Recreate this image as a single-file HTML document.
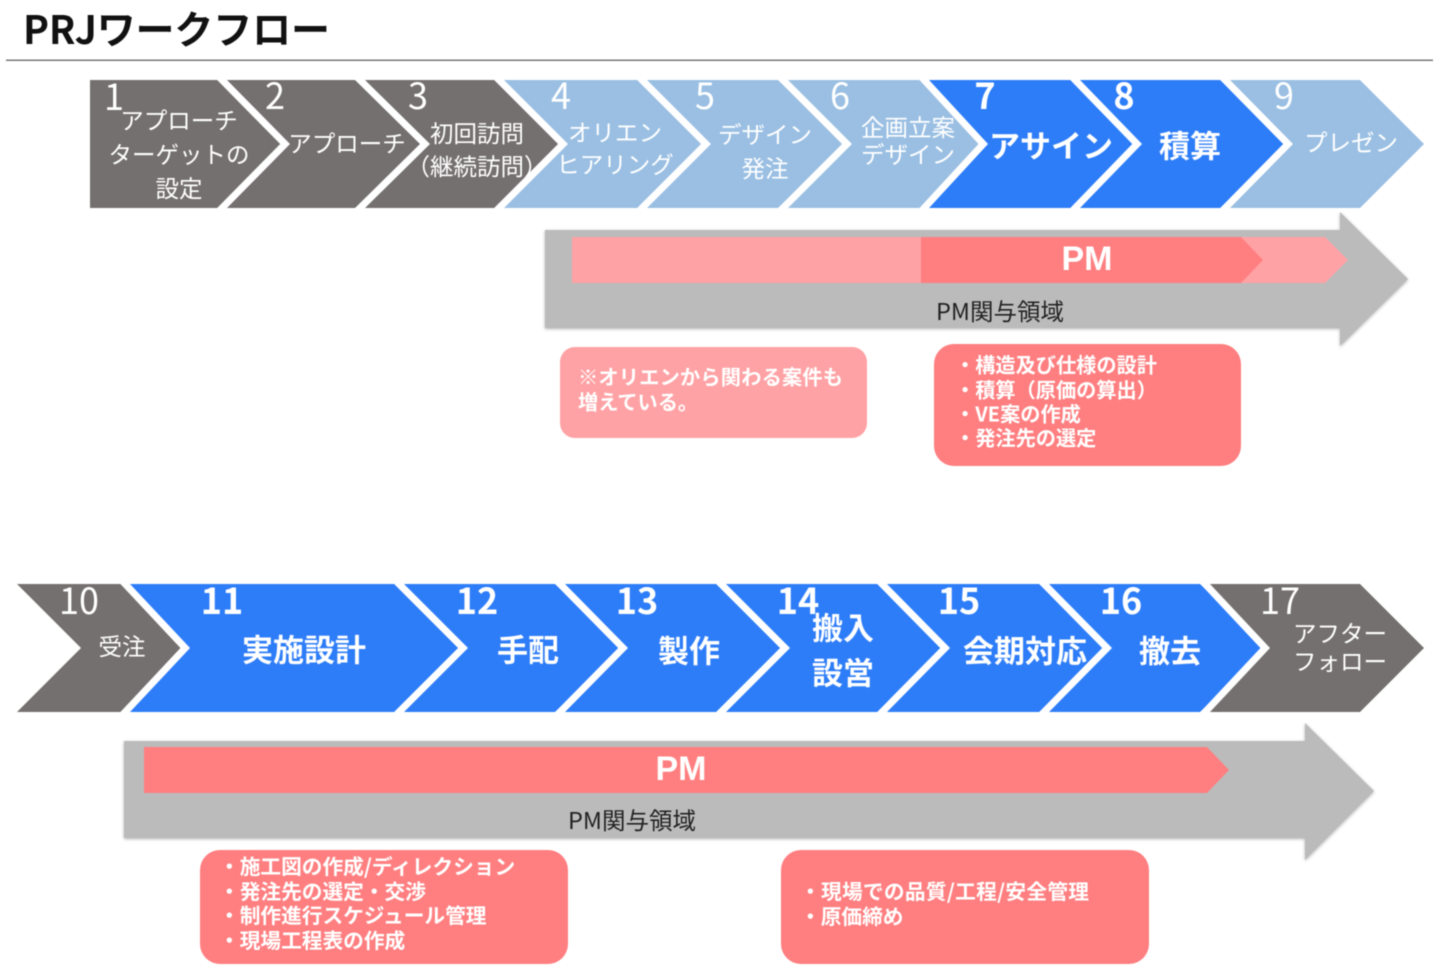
<!DOCTYPE html>
<html lang="ja">
<head>
<meta charset="utf-8">
<title>PRJワークフロー</title>
<style>
html,body{margin:0;padding:0;background:#fff;width:1440px;height:970px;overflow:hidden}
svg{display:block;filter:blur(0.65px)}
text{font-family:"Liberation Sans","Noto Sans CJK JP",sans-serif;dominant-baseline:central;fill:#fff}
.n{font-size:36px;text-anchor:middle;font-family:"Noto Sans CJK JP",sans-serif;font-weight:400}
.s{font-size:23.5px;text-anchor:middle;font-family:"Noto Sans CJK JP",sans-serif;font-weight:400}
.b{font-size:31px;text-anchor:middle;font-family:"Noto Sans CJK JP",sans-serif;font-weight:700}
.t{font-size:20.2px;font-family:"Noto Sans CJK JP",sans-serif;font-weight:700}
.u{font-size:20.7px}
.pm{font-size:34px;font-weight:700;text-anchor:middle}
.a{font-size:23.5px;text-anchor:middle;fill:#222;font-family:"Noto Sans CJK JP",sans-serif}
.p polygon{stroke:#fff;stroke-width:14;paint-order:stroke;stroke-linejoin:miter;stroke-miterlimit:4}
.g{filter:drop-shadow(0 1px 1.5px rgba(0,0,0,.3))}
</style>
</head>
<body>
<svg width="1440" height="970" viewBox="0 0 1440 970" xmlns="http://www.w3.org/2000/svg">
<rect width="1440" height="970" fill="#fff"/>
<text x="23" y="28" style="font-size:39px;font-weight:700;fill:#111;font-family:'Noto Sans CJK JP',sans-serif" textLength="307">PRJワークフロー</text>
<rect x="6" y="59.5" width="1427" height="1.5" fill="#777"/>

<g class="p">
<polygon fill="#757070" points="90,80 220,80 284,144 220,208 90,208"/>
<polygon fill="#757070" points="227,80 356,80 424,144 356,208 227,208 290,144"/>
<polygon fill="#757070" points="365,80 498,80 563,144 498,208 365,208 430,144"/>
<polygon fill="#9abfe3" points="504,80 638,80 704,144 638,208 504,208 568,144"/>
<polygon fill="#9abfe3" points="647,80 778,80 846,144 778,208 647,208 711,144"/>
<polygon fill="#9abfe3" points="788,80 921,80 985,144 921,208 788,208 852,144"/>
<polygon fill="#2e7df8" points="929,80 1072,80 1136,144 1072,208 929,208 988,144"/>
<polygon fill="#2e7df8" points="1080,80 1222,80 1286,144 1222,208 1080,208 1142,144"/>
<polygon fill="#9abfe3" points="1230,80 1360,80 1424,144 1360,208 1230,208 1293,144"/>

<polygon fill="#757070" points="17,584 122,584 188,648 122,712 17,712 81,648"/>
<polygon fill="#2e7df8" points="130,584 395,584 466,648 395,712 130,712 190,648"/>
<polygon fill="#2e7df8" points="404,584 555,584 625,648 555,712 404,712 468,648"/>
<polygon fill="#2e7df8" points="565,584 717,584 787,648 717,712 565,712 628,648"/>
<polygon fill="#2e7df8" points="726,584 878,584 948,648 878,712 726,712 790,648"/>
<polygon fill="#2e7df8" points="887,584 1040,584 1108,648 1040,712 887,712 950,648"/>
<polygon fill="#2e7df8" points="1049,584 1200,584 1267,648 1200,712 1049,712 1112,648"/>
<polygon fill="#757070" points="1210,584 1360,584 1424,648 1360,712 1210,712 1270,648"/>
</g>

<polygon class="g" fill="#bbb" points="545,230 1340,230 1340,212 1408,279 1340,346 1340,328 545,328"/>
<polygon fill="#ffa2a5" points="572,237 1325,237 1348,260 1325,283 572,283"/>
<polygon fill="#ff7f81" points="921,237 1241,237 1263,260 1241,283 921,283"/>

<polygon class="g" fill="#bbb" points="124,741 1305,741 1305,723 1374,791 1305,860 1305,838 124,838"/>
<polygon fill="#ff7f81" points="144,747 1207,747 1229,770 1207,793 144,793"/>

<rect x="560" y="347" width="307" height="91" rx="15" fill="#ffa2a5"/>
<rect x="934" y="344" width="307" height="122" rx="20" fill="#ff7f81"/>
<rect x="200" y="850" width="368" height="114" rx="20" fill="#ff7f81"/>
<rect x="781" y="850" width="368" height="114" rx="20" fill="#ff7f81"/>

<text class="n" x="114" y="95">1</text>
<text class="n" x="275" y="94">2</text>
<text class="n" x="418" y="94">3</text>
<text class="n" x="561" y="94">4</text>
<text class="n" x="705" y="94">5</text>
<text class="n" x="840" y="94">6</text>
<text class="n" x="985" y="94" style="font-weight:700">7</text>
<text class="n" x="1124" y="94" style="font-weight:700">8</text>
<text class="n" x="1284" y="94">9</text>

<text class="s" x="179" y="119">アプローチ</text>
<text class="s" x="179" y="153">ターゲットの</text>
<text class="s" x="179" y="187">設定</text>
<text class="s" x="347" y="142">アプローチ</text>
<text class="s" x="477" y="132">初回訪問</text>
<text class="s" x="477" y="165">（継続訪問）</text>
<text class="s" x="615" y="131">オリエン</text>
<text class="s" x="615" y="163">ヒアリング</text>
<text class="s" x="765" y="133">デザイン</text>
<text class="s" x="765" y="167">発注</text>
<text class="s" x="908" y="126">企画立案</text>
<text class="s" x="908" y="153">デザイン</text>
<text class="b" x="1051" y="144">アサイン</text>
<text class="b" x="1190" y="144">積算</text>
<text class="s" x="1351" y="141">プレゼン</text>

<text class="n" x="79" y="599">10</text>
<text class="n" x="222" y="599" style="font-weight:700">11</text>
<text class="n" x="477" y="599" style="font-weight:700">12</text>
<text class="n" x="637" y="599" style="font-weight:700">13</text>
<text class="n" x="798" y="599" style="font-weight:700">14</text>
<text class="n" x="959" y="599" style="font-weight:700">15</text>
<text class="n" x="1121" y="599" style="font-weight:700">16</text>
<text class="n" x="1280" y="599">17</text>

<text class="s" x="122" y="645">受注</text>
<text class="b" x="304" y="648">実施設計</text>
<text class="b" x="528" y="648">手配</text>
<text class="b" x="689" y="649">製作</text>
<text class="b" x="843" y="626">搬入</text>
<text class="b" x="843" y="671">設営</text>
<text class="b" x="1025" y="649">会期対応</text>
<text class="b" x="1170" y="649">撤去</text>
<text class="s" x="1340" y="632">アフター</text>
<text class="s" x="1340" y="660">フォロー</text>

<text class="pm" x="1087" y="259">PM</text>
<text class="a" x="1000" y="310">PM関与領域</text>
<text class="pm" x="681" y="769">PM</text>
<text class="a" x="632" y="819">PM関与領域</text>

<text class="t" x="578" y="376" textLength="265">※オリエンから関わる案件も</text>
<text class="t" x="578" y="401">増えている。</text>

<text class="t" x="955" y="364">・構造及び仕様の設計</text>
<text class="t" x="955" y="389">・積算（原価の算出）</text>
<text class="t" x="955" y="413">・VE案の作成</text>
<text class="t" x="955" y="437">・発注先の選定</text>

<text class="t u" x="219" y="865">・施工図の作成/ディレクション</text>
<text class="t u" x="219" y="890">・発注先の選定・交渉</text>
<text class="t u" x="219" y="914">・制作進行スケジュール管理</text>
<text class="t u" x="219" y="939">・現場工程表の作成</text>

<text class="t u" x="800" y="890" textLength="289">・現場での品質/工程/安全管理</text>
<text class="t u" x="800" y="915">・原価締め</text>
</svg>
</body>
</html>
